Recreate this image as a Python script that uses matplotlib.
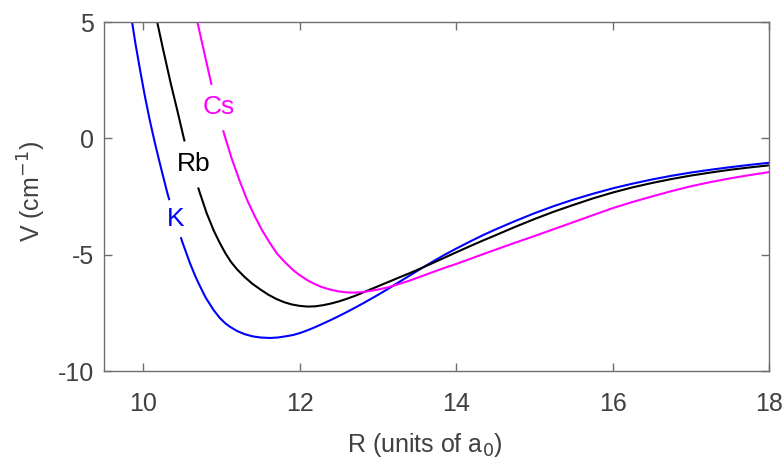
import matplotlib
matplotlib.use("Agg")
import matplotlib.pyplot as plt

plt.rcParams['font.family'] = ['Liberation Sans', 'DejaVu Sans']
plt.rcParams['axes.unicode_minus'] = False

# K (blue)
k_r = [9.84, 9.9, 9.96, 10.02, 10.08, 10.15, 10.23, 10.31, 10.4, 10.5, 10.6, 10.67,
       10.73, 10.8, 10.9, 10.98, 11.05, 11.11, 11.2, 11.3, 11.4, 11.5, 11.62, 11.72,
       11.82, 11.92, 12.02, 12.1, 12.18, 12.28, 12.39, 12.5, 12.6, 12.69, 12.8, 12.9,
       13.0, 13.12, 13.25, 13.41, 13.54, 13.7, 13.85, 14.0, 14.18, 14.35, 14.5, 14.75,
       15.0, 15.25, 15.5, 15.75, 16.0, 16.25, 16.5, 16.75, 17.0, 17.25, 17.5, 17.75, 18.0]
k_v = [5.4, 4.1, 2.95, 1.85, 0.85, -0.2, -1.3, -2.36, -3.4, -4.45, -5.38, -5.95,
       -6.38, -6.85, -7.38, -7.72, -7.95, -8.1, -8.28, -8.42, -8.51, -8.56, -8.58, -8.56,
       -8.51, -8.45, -8.35, -8.25, -8.14, -7.99, -7.82, -7.64, -7.47, -7.31, -7.11, -6.92,
       -6.73, -6.49, -6.22, -5.89, -5.62, -5.3, -5.01, -4.74, -4.43, -4.15, -3.92, -3.56,
       -3.22, -2.91, -2.63, -2.38, -2.15, -1.95, -1.77, -1.61, -1.47, -1.35, -1.24, -1.14, -1.05]

# Rb (black)
rb_r = [10.16, 10.25, 10.35, 10.44, 10.52, 10.62, 10.72, 10.81, 10.9, 10.98, 11.05,
        11.12, 11.2, 11.3, 11.4, 11.5, 11.6, 11.7, 11.8, 11.9, 12.0, 12.1, 12.2, 12.3,
        12.4, 12.5, 12.6, 12.7, 12.8, 12.9, 13.0, 13.1, 13.2, 13.3, 13.41, 13.54, 13.7,
        13.85, 14.0, 14.18, 14.35, 14.5, 14.75, 15.0, 15.25, 15.5, 15.75, 16.0, 16.25,
        16.5, 16.75, 17.0, 17.25, 17.5, 17.75, 18.0]
rb_v = [5.3, 3.9, 2.4, 1.15, 0.0, -1.2, -2.3, -3.2, -3.95, -4.5, -4.93,
        -5.3, -5.63, -5.97, -6.26, -6.5, -6.72, -6.9, -7.04, -7.14, -7.2, -7.23, -7.22, -7.17,
        -7.1, -7.01, -6.9, -6.78, -6.64, -6.5, -6.36, -6.22, -6.08, -5.94, -5.79, -5.6, -5.36,
        -5.13, -4.9, -4.63, -4.38, -4.17, -3.81, -3.47, -3.15, -2.86, -2.58, -2.33, -2.11,
        -1.92, -1.75, -1.6, -1.47, -1.35, -1.25, -1.16]

# Cs (magenta)
cs_r = [10.68, 10.78, 10.87, 10.95, 11.04, 11.13, 11.23, 11.33, 11.43, 11.52, 11.62,
        11.71, 11.82, 11.92, 12.0, 12.1, 12.18, 12.28, 12.39, 12.5, 12.6, 12.7, 12.8,
        12.9, 13.0, 13.12, 13.25, 13.4, 13.54, 13.7, 13.85, 14.0, 14.18, 14.35, 14.5,
        14.75, 15.0, 15.25, 15.5, 15.75, 16.0, 16.25, 16.5, 16.75, 17.0, 17.25, 17.5,
        17.75, 18.0]
cs_v = [5.2, 3.7, 2.36, 1.2, 0.13, -0.85, -1.8, -2.66, -3.37, -3.95, -4.5,
        -4.95, -5.35, -5.67, -5.88, -6.1, -6.24, -6.39, -6.5, -6.58, -6.62, -6.63, -6.61,
        -6.56, -6.5, -6.41, -6.28, -6.12, -5.95, -5.75, -5.57, -5.4, -5.18, -4.97, -4.79,
        -4.49, -4.2, -3.9, -3.6, -3.3, -3.0, -2.74, -2.5, -2.27, -2.06, -1.88, -1.72,
        -1.58, -1.45]

labels = ['K', 'Rb', 'Cs']
colors = ['#0000ff', '#000000', '#ff00ff']
label_r = [10.41, 10.65, 10.97]
label_v = [-3.45, -1.09, 1.34]

fig = plt.figure(figsize=(7.84, 4.59), dpi=100)
ax = fig.add_axes([0.1327, 0.1917, 0.8483, 0.7603])

series = [(k_r, k_v), (rb_r, rb_v), (cs_r, cs_v)]
for (r, v), c in zip(series, colors):
    ax.plot(r, v, color=c, lw=1.5, zorder=2)

# labels sit on the curves, breaking them
for name, c, lr, lv in zip(labels, colors, label_r, label_v):
    ax.text(lr, lv, name, color=c, fontsize=19, ha='center', va='center', zorder=3,
            bbox=dict(boxstyle='circle,pad=0.28', fc='white', ec='none'))

ax.set_xlim(9.5, 18)
ax.set_ylim(-10, 5)
ax.set_xticks([10, 12, 14, 16, 18])
ax.set_yticks([-10, -5, 0, 5])

text_col = '#404040'
for s in ax.spines.values():
    s.set_color('#6e6e6e')
    s.set_linewidth(1.0)
ax.tick_params(direction='in', length=6, width=1.0, color='#6e6e6e',
               top=True, right=True, labelsize=18, labelcolor=text_col)
ax.tick_params(axis='x', pad=15)
ax.tick_params(axis='y', pad=7)

ax.set_xlabel('R (units of a$_0$)', fontsize=18, color=text_col, va='baseline')
ax.xaxis.set_label_coords(0.483, -0.232)
ax.set_ylabel('V (cm$^{-1}$)', fontsize=18, color=text_col, va='center')
ax.yaxis.set_label_coords(-0.108, 0.514)

fig.savefig('out.png', dpi=100)
